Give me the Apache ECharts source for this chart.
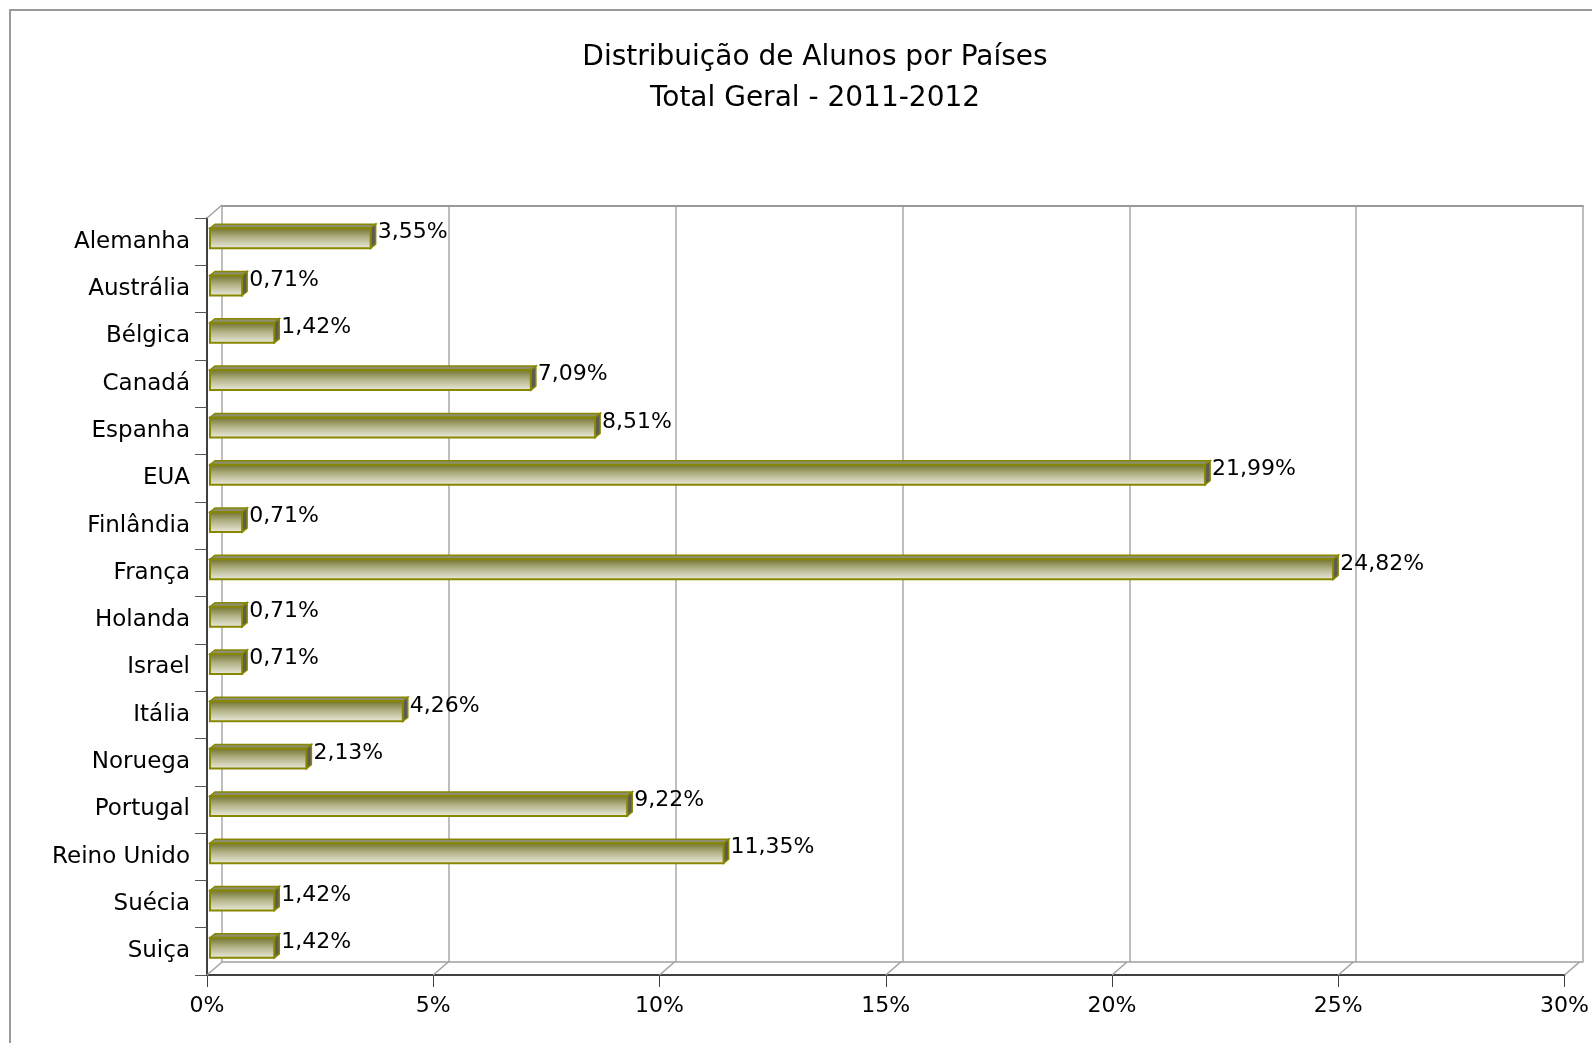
<!DOCTYPE html>
<html>
<head>
<meta charset="utf-8">
<script src="https://cdn.jsdelivr.net/npm/echarts@6/dist/echarts.min.js"></script>
<style>
html,body{margin:0;padding:0;background:#fff;}
#chart{width:1592px;height:1043px;}
</style>
</head>
<body>
<div id="chart"></div>
<script>
const categories = ['Alemanha','Austrália','Bélgica','Canadá','Espanha','EUA','Finlândia','França','Holanda','Israel','Itália','Noruega','Portugal','Reino Unido','Suécia','Suiça'];
const percentages = [3.55, 0.71, 1.42, 7.09, 8.51, 21.99, 0.71, 24.82, 0.71, 0.71, 4.26, 2.13, 9.22, 11.35, 1.42, 1.42];
const xTicks = [0, 5, 10, 15, 20, 25, 30];
const titleLines = ['Distribuição de Alunos por Países', 'Total Geral - 2011-2012'];

const FONT = 'DejaVu Sans';
const DEPTH_X = 15, DEPTH_Y = 13;   // 3D wall offset
const BAR_DX = 5, BAR_DY = 4;       // bar depth

const chart = echarts.init(document.getElementById('chart'));

function fmt(v){ return v.toFixed(2).replace('.', ',') + '%'; }

const option = {
  animation: false,
  backgroundColor: '#fff',
  graphic: [{
    type: 'rect', shape: {x: 10, y: 10, width: 1700, height: 1200},
    style: {fill: 'none', stroke: '#9a9a9a', lineWidth: 2}, silent: true, z: 0
  }],
  title: {
    text: titleLines.join('\n'),
    left: 810, top: 32, textAlign: 'center',
    textStyle: {fontFamily: FONT, fontSize: 28, fontWeight: 'normal', color: '#000', lineHeight: 41}
  },
  grid: [
    {left: 207, right: 25, top: 218, bottom: 68},
    {left: 222, right: 9, top: 206, bottom: 81}
  ],
  xAxis: [
    {gridIndex: 0, type: 'value', min: 0, max: 30, interval: 5,
      axisLine: {show: true, lineStyle: {color: '#404040', width: 2}},
      axisTick: {show: true, length: 12, lineStyle: {color: '#404040', width: 1}},
      splitLine: {show: false},
      axisLabel: {formatter: '{value}%', fontFamily: FONT, fontSize: 22, color: '#000', margin: 20}
    },
    {gridIndex: 1, type: 'value', min: 0, max: 30, interval: 5, position: 'bottom',
      axisLine: {show: true, lineStyle: {color: '#a0a0a0', width: 1.5}},
      axisTick: {show: false}, axisLabel: {show: false},
      splitLine: {show: true, lineStyle: {color: '#a8a8a8', width: 1.5}}
    },
    {gridIndex: 1, type: 'value', min: 0, max: 30, interval: 5, position: 'top',
      axisLine: {show: true, lineStyle: {color: '#9a9a9a', width: 2}},
      axisTick: {show: false}, axisLabel: {show: false}, splitLine: {show: false}
    }
  ],
  yAxis: [
    {gridIndex: 0, type: 'category', data: categories, inverse: true,
      axisLine: {show: true, lineStyle: {color: '#000', width: 1.5}},
      axisTick: {show: true, length: 12, lineStyle: {color: '#555', width: 1}},
      splitLine: {show: false},
      axisLabel: {fontFamily: FONT, fontSize: 23, color: '#000', margin: 17}
    },
    {gridIndex: 1, type: 'value', show: false, min: 0, max: 1}
  ],
  series: [
    {
      type: 'custom', name: 'floor', xAxisIndex: 0, yAxisIndex: 0, clip: false, silent: true, z: 1,
      data: xTicks.map(v => [v, 0]),
      encode: {x: 0, y: 1},
      renderItem: function (params, api) {
        const cs = params.coordSys;
        const x = api.coord([api.value(0), 0])[0];
        const yb = cs.y + cs.height;
        const children = [{
          type: 'line',
          shape: {x1: x, y1: yb, x2: x + DEPTH_X, y2: yb - DEPTH_Y},
          style: {stroke: '#a0a0a0', lineWidth: 1.5}
        }];
        if (api.value(0) === 0) {
          children.push({
            type: 'line',
            shape: {x1: cs.x, y1: cs.y, x2: cs.x + DEPTH_X, y2: cs.y - DEPTH_Y},
            style: {stroke: '#a0a0a0', lineWidth: 1.5}
          });
        }
        return {type: 'group', children: children};
      }
    },
    {
      type: 'custom', name: 'Alunos', xAxisIndex: 0, yAxisIndex: 0, clip: false, z: 3,
      data: percentages.map((v, i) => [v, i]),
      encode: {x: 0, y: 1},
      renderItem: function (params, api) {
        const v = api.value(0), idx = api.value(1);
        const end = api.coord([v, idx]);
        const start = api.coord([0, idx]);
        const c = end[1];
        const x0 = start[0] + 3, x1 = end[0] + 3;
        const yt = c - 13.5, yb = c + 6.5;
        const outline = '#888800';
        return {
          type: 'group',
          children: [
            {type: 'polygon', shape: {points: [[x0, yt], [x1, yt], [x1 + BAR_DX, yt - BAR_DY], [x0 + BAR_DX, yt - BAR_DY]]},
              style: {fill: '#8e8e72', stroke: outline, lineWidth: 1.5}},
            {type: 'polygon', shape: {points: [[x1, yt], [x1 + BAR_DX, yt - BAR_DY], [x1 + BAR_DX, yb - BAR_DY], [x1, yb]]},
              style: {fill: '#5c5c52', stroke: outline, lineWidth: 1.5}},
            {type: 'rect', shape: {x: x0, y: yt, width: x1 - x0, height: yb - yt},
              style: {
                fill: new echarts.graphic.LinearGradient(0, 0, 0, 1, [
                  {offset: 0, color: '#6e6e28'},
                  {offset: 0.45, color: '#b0b084'},
                  {offset: 1, color: '#eeeee2'}
                ]),
                stroke: outline, lineWidth: 2
              }},
            {type: 'text', style: {
              text: fmt(v), x: x1 + BAR_DX + 2, y: c - 9,
              align: 'left', verticalAlign: 'middle',
              fontFamily: FONT, fontSize: 22, fill: '#000'
            }}
          ]
        };
      }
    }
  ]
};
chart.setOption(option);
</script>
</body>
</html>
